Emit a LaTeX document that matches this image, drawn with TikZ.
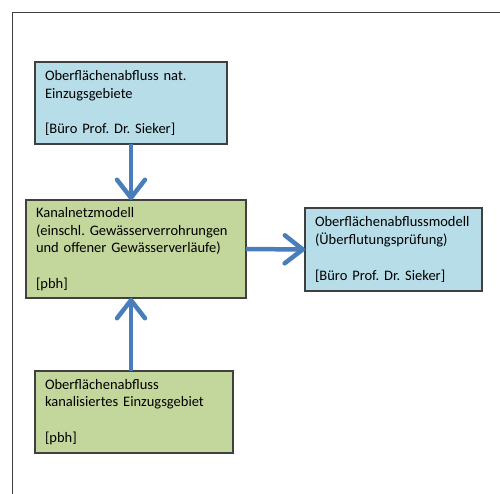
\documentclass[tikz,border=0pt]{standalone}
\usepackage{fontspec}
\setmainfont{Carlito}
\usepackage{xcolor}
\usetikzlibrary{shapes,arrows.meta,positioning,calc}

\definecolor{boxblue}{HTML}{B7DDE8}
\definecolor{boxgreen}{HTML}{C3D69B}
\definecolor{flowblue}{HTML}{4A7EBB}
\definecolor{framegray}{HTML}{404040}

\begin{document}
\frenchspacing
\begin{tikzpicture}[x=1pt,y=-1pt,
    box/.style={draw=framegray, line width=1.2pt, outer sep=0pt, anchor=north west,
        inner xsep=10pt, inner ysep=0pt, align=left,
        font=\fontsize{14.5}{17.8}\selectfont},
    bluebox/.style={box, fill=boxblue},
    greenbox/.style={box, fill=boxgreen},
    flow/.style={draw=flowblue, line width=4.5pt,
        -{Straight Barb[length=18pt,width=28pt,round]}}]
% model chain: runoff -> sewer network -> flooding check
\useasboundingbox (0,0) rectangle (500,494);
\draw[framegray, line width=1.2pt] (12.5,494) -- (12.5,12.5) -- (500,12.5);

\node[bluebox, text width=172pt, minimum height=82pt] (natgeb) at (35,62)
    {Oberflächenabfluss nat.\\Einzugsgebiete\\[17.8pt]{[}Büro Prof. Dr. Sieker{]}};
\node[greenbox, text width=200pt, minimum height=98pt] (kanal) at (26,200)
    {Kanalnetzmodell\\(einschl. Gewässerverrohrungen\\und offener Gewässerverläufe)\\[17.8pt]{[}pbh{]}};
\node[bluebox, text width=157pt, minimum height=83pt] (ueberflut) at (305,208)
    {Oberflächenabflussmodell\\(Überflutungsprüfung)\\[17.8pt]{[}Büro Prof. Dr. Sieker{]}};
\node[greenbox, text width=178pt, minimum height=82pt] (kangeb) at (35,371)
    {Oberflächenabfluss\\kanalisiertes Einzugsgebiet\\[17.8pt]{[}pbh{]}};

\draw[flow] (natgeb.south) -- (natgeb.south |- kanal.north);
\draw[flow] (kanal.east) -- (ueberflut.west);
\draw[flow] (kangeb.north -| natgeb.south) -- (natgeb.south |- kanal.south);
\end{tikzpicture}
\end{document}
